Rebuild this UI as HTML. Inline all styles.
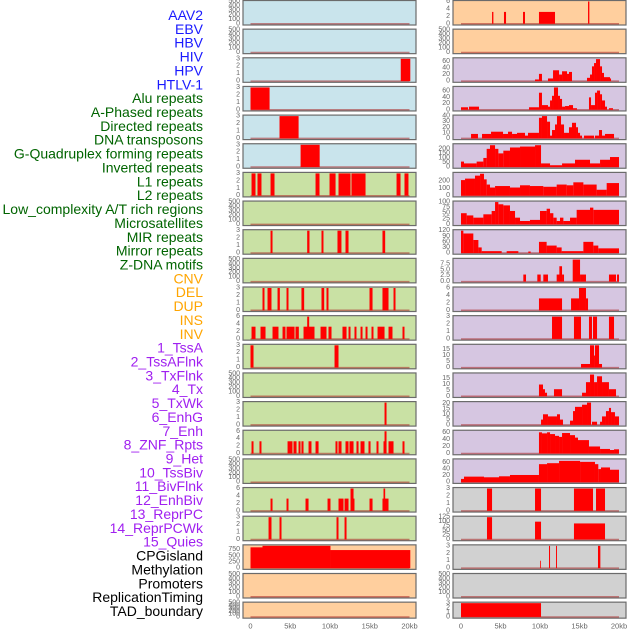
<!DOCTYPE html>
<html><head><meta charset="utf-8">
<style>
html,body{margin:0;padding:0;background:#fff;}
svg{display:block;font-family:"Liberation Sans",sans-serif;}
</style></head>
<body>
<svg id="chart" width="630" height="630" viewBox="0 0 630 630" xmlns="http://www.w3.org/2000/svg"></svg>
<script>
const labels = ["AAV2","EBV","HBV","HIV","HPV","HTLV-1","Alu repeats","A-Phased repeats","Directed repeats","DNA transposons","G-Quadruplex forming repeats","Inverted repeats","L1 repeats","L2 repeats","Low_complexity A/T rich regions","Microsatellites","MIR repeats","Mirror repeats","Z-DNA motifs","CNV","DEL","DUP","INS","INV","1_TssA","2_TssAFlnk","3_TxFlnk","4_Tx","5_TxWk","6_EnhG","7_Enh","8_ZNF_Rpts","9_Het","10_TssBiv","11_BivFlnk","12_EnhBiv","13_ReprPC","14_ReprPCWk","15_Quies","CPGisland","Methylation","Promoters","ReplicationTiming","TAD_boundary"];
const labelGroups = [0,0,0,0,0,0,1,1,1,1,1,1,1,1,1,1,1,1,1,2,2,2,2,2,3,3,3,3,3,3,3,3,3,3,3,3,3,3,3,4,4,4,4,4];
const groupTextColors = ["#1a1aff","#006400","#ffa500","#a020f0","#000000"];
const groupBgColors = ["#c9e4ec","#c9e1a4","#ffcf9e","#d6c6e1","#d1d1d1"];
// panels in drawing order (left column rows 0-21, right column rows 0-21)
const panelGroups = [0,0,0,0,0,0,1,1,1,1,1,1,1,1,1,1,1,1,1,2,2,2, 2,2,3,3,3,3,3,3,3,3,3,3,3,3,3,3,3,4,4,4,4,4];
const T500=[0,100,200,300,400,500], T3=[0,1,2,3], T6=[0,2,4,6];
const yTicks = [
 T500,T500,T3,T3,T3,T3,T3,T500,T3,T500,T3,T6,T3,T500,T3,T6,T500,T6,T3,[0,250,500,750],T500,T500,
 T6,T500,[0,20,40,60],[0,20,40,60],[0,10,20,30,40],[0,50,100,150,200],[0,100,200],[0,25,50,75,100],[0,30,60,90,120],[0,2.5,5,7.5],T6,T3,[0,5,10,15],[0,5,10,15],[0,5,10,15,20],[0,20,40,60],[0,20,40,60],T3,[0,25,50,75,100,125],T3,T500,T3
];
const tickText = [
 null,null,null,null,null,null,null,null,null,null,null,null,null,null,null,null,null,null,null,null,null,null,
 null,null,null,null,null,null,null,null,null,["0.0","2.5","5.0","7.5"],null,null,null,null,null,null,null,null,null,null,null,null
];
const yMax = [
 500,500,3,3,3,3,3,500,3,500,3,6,3,500,3,6,500,6,3,900,500,500,
 6,500,68,72,40,245,300,100,120,9.4,6,3,18.5,19,21,63,68,3,125,3,500,3
];
const segments = [
 [],[],
 [[18.9,20.1,3]],
 [[0,2.4,3]],
 [[3.65,6.05,3]],
 [[6.3,8.7,3]],
 [[0.13,0.63,3],[0.88,1.38,3],[2.52,3.02,3],[8.18,8.68,3],[9.94,10.7,3],[11.07,12.58,3],[12.7,14.47,3],[18.37,18.87,3],[19.37,19.87,3]],
 [],
 [[2.52,2.77,3],[7.13,7.42,3],[8.93,9.18,3],[10.94,11.44,3],[11.95,12.33,3],[16.6,16.94,3]],
 [],
 [[1.51,1.76,3],[2.14,2.64,3],[3.4,3.69,3],[4.53,4.78,3],[6.41,6.75,3],[8.93,9.27,3],[9.56,9.81,3],[14.97,15.35,3],[16.6,17.36,3],[17.99,18.24,3]],
 [[0.13,0.63,3.3],[1.26,1.89,3.3],[2.77,3.52,3.3],[4.03,4.4,3.3],[4.53,5.54,3.3],[5.66,6.08,3.3],[6.67,8.05,3.3],[7.13,7.38,6],[8.81,9.56,3.3],[9.81,10.19,3.3],[11.57,12.08,3.3],[12.33,12.58,3.3],[13.08,13.33,3.3],[13.84,14.09,3.3],[14.47,14.72,3.3],[15.22,15.47,3.3],[15.98,16.86,3.3],[17.36,17.86,3.3],[19.12,19.37,3.3]],
 [[0,0.38,3],[10.57,11.07,3]],
 [],
 [[16.86,17.11,3]],
 [[0.13,0.38,3.3],[1.13,1.38,3.3],[4.66,5.28,3.3],[5.41,5.79,3.3],[6.04,6.29,3.3],[6.41,6.67,3.3],[7.3,7.67,3.3],[8.18,8.56,3.3],[10.69,10.94,3.3],[11.07,11.45,3.3],[11.95,12.33,3.3],[12.45,12.96,3.3],[13.33,13.59,3.3],[13.84,14.34,3.3],[14.84,15.1,3.3],[15.85,16.1,3.3],[16.73,17.11,3.3],[16.86,17.11,6],[17.36,17.99,3.3],[19.12,19.37,3.3]],
 [],
 [[2.52,2.77,3.3],[4.53,4.78,3.3],[6.92,7.3,3.3],[9.69,10.06,3.3],[11.07,11.7,3.3],[11.83,12.33,3.3],[12.58,13.08,3.3],[12.58,12.96,6],[14.97,15.35,3.3],[16.6,17.36,3.3],[16.73,16.94,6]],
 [[2.27,2.64,3],[3.65,3.9,3],[10.82,11.07,3],[11.83,12.08,3]],
 [[0,1.51,840],[1.51,10.06,900],[10.06,20.1,730]],
 [],[],
 // right column
 [[3.93,4.1,3.2],[5.44,5.7,3.2],[7.85,8.1,3.2],[9.87,11.9,3.2],[16.08,16.25,6]],
 [],
 [[9.37,9.87,5],[9.87,10.25,22],[11.01,11.65,8],[11.65,12.41,33],[12.41,12.79,20],[12.79,13.42,30],[13.42,13.67,22],[13.67,14.05,28],[15.95,16.33,10],[16.33,16.58,20],[16.58,16.84,45],[16.84,17.09,55],[17.09,17.6,67],[17.6,17.85,45],[17.85,18.1,25],[18.1,18.86,12],[18.86,18.99,8]],
 [[0,0.89,8],[1.01,2.28,10],[8.61,9.87,8],[9.87,10.25,55],[10.25,11.01,15],[11.01,11.27,10],[11.27,11.52,30],[11.52,11.77,45],[11.77,12.28,72],[12.28,12.53,45],[12.53,12.79,35],[12.79,13.17,10],[13.17,13.67,12],[13.67,14.18,15],[14.18,14.68,5],[16.2,16.46,40],[16.46,16.96,15],[16.96,17.22,55],[17.22,17.6,62],[17.6,17.85,50],[17.85,18.23,30],[18.23,18.48,10],[18.73,19.24,5]],
 [[1.27,2.15,8],[2.66,3.8,8],[3.8,5.32,12],[5.32,5.95,8],[5.95,6.46,12],[6.46,7.09,8],[7.09,8.1,10],[8.1,8.48,5],[8.48,9.87,10],[9.87,10.25,37],[10.25,10.89,40],[10.89,11.27,30],[11.27,11.52,5],[11.52,11.9,15],[11.9,12.15,25],[12.15,12.66,40],[12.66,13.04,25],[13.04,13.67,10],[13.67,14.05,20],[14.05,14.56,28],[14.56,14.81,20],[14.81,15.07,10],[15.07,15.32,5],[15.57,16.84,5],[16.96,17.47,5],[17.47,17.85,15],[17.85,18.23,5],[18.23,19.37,8]],
 [[0,0.38,60],[0.38,1.98,40],[1.98,2.83,60],[2.83,3.25,100],[3.25,3.67,200],[3.67,4.31,240],[4.31,4.73,200],[4.73,5.36,150],[5.36,6.2,180],[6.2,7.47,215],[7.47,9.37,225],[9.37,10.13,240],[10.13,11.27,40],[11.27,12.79,20],[12.79,14.43,40],[14.43,16.33,80],[16.33,17.6,40],[17.6,18.86,80],[18.86,20,110]],
 [[0,0.51,210],[0.51,1.77,230],[1.77,2.41,270],[2.41,2.91,295],[2.91,3.25,220],[3.25,3.67,150],[3.67,4.31,110],[4.31,6.2,130],[6.2,7.47,110],[7.47,8.73,140],[8.73,10.42,130],[10.42,12.11,120],[12.11,13.38,150],[13.38,14.22,140],[14.22,15.49,180],[15.49,17.17,150],[17.17,18.44,80],[18.44,20,170]],
 [[0,0.72,50],[0.72,1.56,40],[1.56,2.83,30],[2.83,3.88,45],[3.88,4.31,60],[4.31,4.73,100],[4.73,5.36,90],[5.36,6.2,85],[6.2,6.84,60],[6.84,7.47,30],[7.47,8.73,15],[8.73,10.0,20],[10.0,10.84,60],[10.84,11.27,70],[11.27,11.69,50],[11.69,12.11,30],[12.11,12.53,15],[12.53,12.96,30],[12.96,13.8,15],[13.8,14.64,30],[14.64,16.33,65],[16.33,16.75,75],[16.75,20,65]],
 [[0,0.3,120],[0.3,1.56,105],[1.56,2.2,70],[2.2,2.62,30],[2.62,5.15,10],[5.78,7.26,10],[8.52,8.82,8],[9.87,10.84,60],[10.84,12.11,40],[12.11,12.74,30],[12.74,15.49,10],[15.49,16.75,60],[16.75,17.38,40],[17.38,20,25]],
 [[7.89,8.23,3],[9.66,10.09,3],[10.42,11.01,3],[12.11,12.53,3],[12.45,12.79,6.5],[12.79,13.04,3],[14.14,15.07,9.3],[15.07,15.82,3],[18.73,19.62,3],[19.75,20,3]],
 [[9.87,12.79,3.2],[13.93,14.94,3.2],[14.94,15.82,6],[15.82,16.08,3.2]],
 [[11.52,12.79,3],[14.3,15.19,3],[16.2,16.58,3],[16.71,17.22,3],[18.73,19.37,3]],
 [[15.19,16.33,3],[16.33,16.84,18.5],[16.84,16.96,10],[16.96,17.47,18.5],[17.47,17.85,3]],
 [[9.87,10.38,10],[10.38,10.63,6],[10.63,10.89,3],[11.77,12.79,6],[15.32,15.82,3],[15.82,16.33,12],[16.33,16.84,18.5],[16.84,17.22,12],[17.22,17.85,17],[17.85,18.73,12],[18.73,19.62,6]],
 [[10.13,10.38,5],[10.38,11.01,10],[11.01,12.15,8],[12.15,12.53,10],[12.53,12.91,5],[13.8,14.18,4],[14.18,14.43,13],[14.43,15.32,17],[15.32,15.95,19],[15.95,16.46,21],[16.58,17.22,3],[17.6,17.85,3],[17.85,18.35,8],[18.35,18.73,13],[18.73,18.99,16],[18.99,19.49,12],[19.49,20,8]],
 [[9.87,10.25,60],[10.25,10.89,57],[10.89,11.27,60],[11.27,11.9,55],[11.9,12.41,50],[12.41,12.79,47],[12.79,13.8,58],[13.8,14.43,52],[14.43,14.81,45],[14.81,16.2,38],[16.2,17.6,20],[17.6,18.86,13],[18.86,19.37,10],[19.37,20,12]],
 [[0,0.38,10],[0.38,2.91,17],[2.91,4.81,15],[4.81,6.2,18],[6.2,9.87,22],[9.87,10.89,55],[10.89,12.41,58],[12.41,15.07,65],[15.07,16.96,62],[16.96,17.38,55],[17.38,17.72,40],[17.72,18.86,45],[18.86,20,38]],
 [[3.29,3.93,3],[9.37,10.13,3],[14.3,16.71,3],[17.09,18.23,3]],
 [[3.29,3.93,125],[9.37,10.13,100],[14.3,18.23,90]],
 [[10.0,10.09,1],[11.14,11.27,3],[12.03,12.15,3],[17.34,17.64,3]],
 [],
 [[0,10.13,3]]
];
const xTickVals = [0,5,10,15,20];
const xTickLabels = ["0","5kb","10kb","15kb","20kb"];

const NS="http://www.w3.org/2000/svg";
const svg=document.getElementById('chart');
function mk(tag,attrs,parent){const e=document.createElementNS(NS,tag);for(const k in attrs)e.setAttribute(k,attrs[k]);(parent||svg).appendChild(e);return e;}

// labels
labels.forEach((t,i)=>{
  const e=mk('text',{x:203,y:15+i*13.86,'text-anchor':'end','dominant-baseline':'central','font-size':'14',fill:groupTextColors[labelGroups[i]]});
  e.textContent=t;
  
  
});

const cols=[{left:243,right:416,x0:250.5,x20:409.5},{left:453,right:626,x0:461,x20:619}];
function xScale(c,kb){return c.x0+(c.x20-c.x0)*kb/20;}

for(let p=0;p<44;p++){
  const col=cols[p<22?0:1], row=p%22;
  const top=row*28.65+0.5, h=(row===21?16:24.5);
  const g=mk('g',{});
  
  
  mk('rect',{x:col.left,y:top,width:col.right-col.left,height:h,fill:groupBgColors[panelGroups[p]],stroke:'#6b6b6b','stroke-width':1.2},g);
  const yb=top+h-1.2, yt=top+1;
  const ys=v=>yb-(yb-yt)*v/yMax[p];
  // baseline
  const bl=mk('line',{x1:xScale(col,0),x2:xScale(col,20),y1:yb,y2:yb,stroke:'rgba(170,40,40,0.55)','stroke-width':1.5},g);
  
  
  segments[p].forEach(s=>{
    const x1=xScale(col,s[0]), x2=xScale(col,s[1]), y=ys(Math.min(s[2],yMax[p]));
    const r=mk('rect',{x:x1,y:y,width:Math.max(0.8,x2-x1),height:yb-y,fill:'#ff0000'},g);
    
    
  });
  yTicks[p].forEach((v,k)=>{
    const t=mk('text',{x:col.left-3,y:ys(v),'text-anchor':'end','dominant-baseline':'central','font-size':'7',fill:'#666'},g);
    t.textContent=tickText[p]?tickText[p][k]:String(v);
    
    
  });
}
// x axes
cols.forEach((c,ci)=>{
  xTickVals.forEach((v,k)=>{
    const t=mk('text',{x:xScale(c,v),y:626,'text-anchor':'middle','dominant-baseline':'central','font-size':'7.5',fill:'#666'});
    t.textContent=xTickLabels[k];
    
    
  });
});
</script>
</body></html>
